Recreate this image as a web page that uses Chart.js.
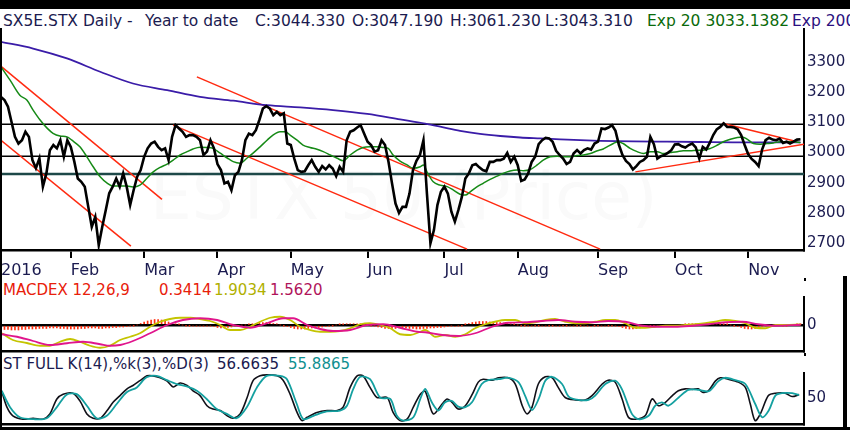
<!DOCTYPE html>
<html>
<head>
<meta charset="utf-8">
<script src="https://cdn.jsdelivr.net/npm/chart.js@4.4.0/dist/chart.umd.min.js"></script>
<style>
  body { margin: 0; width: 850px; height: 430px; overflow: hidden; background: #fff; position: relative; font-family: "DejaVu Sans", sans-serif; }
  .t { position: absolute; white-space: pre; font-size: 15px; line-height: 18px; color: #1b1b50; }
  .h { font-size: 15.5px; }
  canvas { position: absolute; left: 0; }
  .blk { position: absolute; background: #000; }
  #mark { position: absolute; left: 150px; top: 158px; font-size: 66px; color: #fafafa; white-space: pre; }
</style>
</head>
<body>
<div class="blk" style="left:0;top:0;width:850px;height:9px"></div>
<div id="mark">ESTX 50 (Price)</div>

<div class="t h" style="left:3px;top:12px">SX5E.STX Daily -</div>
<div class="t h" style="left:145px;top:12px">Year to date</div>
<div class="t h" style="left:255px;top:12px">C:3044.330</div>
<div class="t h" style="left:352px;top:12px">O:3047.190</div>
<div class="t h" style="left:450px;top:12px">H:3061.230</div>
<div class="t h" style="left:545px;top:12px">L:3043.310</div>
<div class="t h" style="left:647px;top:12px;color:#0a6a0a">Exp 20 3033.1382</div>
<div class="t h" style="left:792px;top:12px;color:#2b1080">Exp 200</div>

<div class="t" style="left:3px;top:281px;color:#e8200a">MACDEX 12,26,9</div>
<div class="t" style="left:159px;top:281px;color:#e8200a">0.3414</div>
<div class="t" style="left:214px;top:281px;color:#b0b000">1.9034</div>
<div class="t" style="left:270px;top:281px;color:#b0145a">1.5620</div>

<div class="t" style="left:3px;top:355px">ST FULL K(14),%k(3),%D(3)</div>
<div class="t" style="left:217px;top:355px">56.6635</div>
<div class="t" style="left:288px;top:355px;color:#109090">55.8865</div>

<canvas id="main" width="850" height="252" style="top:28px"></canvas>
<canvas id="macd" width="850" height="58" style="top:296px"></canvas>
<canvas id="stoch" width="850" height="55" style="top:372px"></canvas>

<div class="blk" style="left:0;top:28px;width:2px;height:402px"></div>
<div class="blk" style="left:0;top:427px;width:850px;height:3px"></div>
<div class="blk" style="left:843px;top:276px;width:4px;height:154px"></div>
<div class="blk" style="left:804px;top:278px;width:2px;height:3px"></div>
<div class="blk" style="left:804px;top:353px;width:2px;height:3px"></div>

<script>
const FONT = "DejaVu Sans";
const NAVY = "#1b1b50";

// months (trading-day index of first session) and axis ticks
const monthDays = [0, 20, 41, 62, 83, 105, 127, 148, 171, 193, 214];
const monthLabels = ["2016", "Feb", "Mar", "Apr", "May", "Jun", "Jul", "Aug", "Sep", "Oct", "Nov"];
const priceTicks = [2700, 2800, 2900, 3000, 3100, 3200, 3300];

// daily close, one value per session
const closeValues = [
  3184, 3174, 3152, 3102, 3052, 3030, 3041, 3069, 3052, 2975,
  2948, 2981, 2887, 2931, 3008, 3025, 3014, 3041, 2986, 3041,
  3019, 2970, 2914, 2903, 2887, 2820, 2754, 2787, 2693, 2754,
  2809, 2865, 2887, 2914, 2887, 2931, 2887, 2826, 2876, 2920,
  2942, 2986, 3014, 3030, 3036, 3019, 3008, 3014, 2975, 3052,
  3091, 3080, 3069, 3052, 3058, 3058, 3052, 3041, 2992, 3003,
  3041, 3014, 2962, 2942, 2898, 2903, 2875, 2925, 2936, 2975,
  3041, 3063, 3058, 3074, 3108, 3146, 3154, 3146, 3124, 3135,
  3124, 3130, 3030, 3025, 2980, 2942, 2936, 2938, 2958, 2975,
  2953, 2936, 2955, 2944, 2958, 2947, 2922, 2953, 2936, 3041,
  3069, 3074, 3083, 3091, 3063, 3036, 3025, 3003, 3008, 3041,
  3025, 2969, 2898, 2831, 2800, 2820, 2820, 2864, 2942, 2973,
  2992, 3041, 2864, 2699, 2743, 2826, 2870, 2887, 2864, 2804,
  2771, 2809, 2853, 2914, 2931, 2958, 2962, 2951, 2942, 2938,
  2969, 2969, 2975, 2975, 2980, 2999, 2969, 2986, 2958, 2906,
  2911, 2931, 2969, 2986, 3028, 3041, 3049, 3047, 3036, 3006,
  2992, 2980, 2962, 2969, 2997, 3008, 2997, 3008, 3014, 3010,
  3030, 3036, 3080, 3078, 3083, 3091, 3072, 3025, 2992, 2972,
  2962, 2944, 2955, 2969, 2975, 2986, 3052, 3028, 2980, 2988,
  2992, 2999, 3008, 3027, 3028, 3021, 3017, 3025, 3030, 3017,
  2980, 3019, 3010, 3032, 3058, 3077, 3085, 3097, 3085, 3085,
  3083, 3077, 3058, 3025, 2995, 2979, 2969, 2955, 3010, 3041,
  3049, 3043, 3041, 3046, 3032, 3036, 3030, 3036, 3043, 3044
];

// Exp 20 (green) read as [session, value]
const exp20Points = [
  [0, 3284], [2.6, 3240], [5.4, 3190], [7.4, 3174], [9.2, 3141], [11.2, 3108], [13.2, 3081], [14.9, 3064],
  [16.9, 3055], [18.9, 3052], [20.3, 3041], [22.6, 3019], [24.6, 2986], [26.4, 2953], [28.4, 2920], [30.4, 2899],
  [32.1, 2889], [34.1, 2889], [36.1, 2889], [37.8, 2886], [39.8, 2892], [41.8, 2915], [43.6, 2936], [45.6, 2951],
  [47.6, 2962], [49.3, 2975], [51.3, 2992], [53.3, 3003], [55, 3012], [57, 3018], [59, 3017], [60.7, 3014],
  [62.8, 2998], [64.8, 2982], [66.5, 2970], [68.5, 2965], [70.5, 2982], [72.2, 2998], [74.2, 3019], [76.2, 3041],
  [77.9, 3058], [79.9, 3069], [81.4, 3069], [82.8, 3058], [84.8, 3041], [86.5, 3025], [88.5, 3017], [90.5, 3011],
  [92.3, 3003], [94.3, 2992], [96.3, 2981], [98, 2973], [100, 2992], [102, 3008], [103.7, 3017], [105.7, 3019],
  [107.7, 3019], [109.5, 3017], [110.9, 3014], [112.3, 2992], [114.3, 2972], [116.3, 2959], [118.1, 2948], [120.1, 2953],
  [121, 2959], [122, 2936], [123.8, 2903], [125.8, 2892], [127.8, 2887], [129.5, 2876], [131.5, 2862], [133, 2859],
  [134.4, 2870], [136.4, 2887], [138.1, 2898], [140.1, 2911], [142.1, 2922], [143.8, 2931], [145.8, 2939], [147.9, 2942],
  [149.6, 2940], [151.6, 2944], [153.6, 2959], [155.3, 2975], [157.3, 2986], [159.3, 2988], [161, 2986], [163, 2986],
  [165, 2990], [166.8, 2992], [168.8, 2997], [170.8, 3006], [172.5, 3012], [173.6, 3019], [175.4, 3030], [176.8, 3036],
  [178.2, 3030], [180.2, 3014], [182.2, 3003], [184, 2997], [186, 3003], [188, 3003], [189.7, 2997], [191.7, 3000],
  [193.7, 3003], [195.4, 3006], [197.4, 3006], [199.4, 3008], [201.1, 3008], [203.2, 3014], [205.2, 3025], [206.9, 3036],
  [208.9, 3044], [210.9, 3050], [212.3, 3052], [213.8, 3044], [215.5, 3030], [217.5, 3028], [219.5, 3030], [221.2, 3032],
  [223.2, 3036], [225.2, 3036], [226.9, 3036], [229, 3033]
];

// Exp 200 (purple)
const exp200Points = [
  [0, 3367], [9.2, 3345], [18.9, 3312], [28.4, 3268], [37.8, 3229], [47.6, 3207], [57, 3185], [66.5, 3172],
  [76.2, 3157], [85.7, 3150], [95.1, 3141], [104.9, 3128], [114.3, 3110], [121.5, 3096], [125.8, 3086], [131.5, 3072],
  [137.2, 3062], [143, 3055], [148.7, 3050], [154.4, 3047], [160.2, 3044], [165.9, 3041], [171.6, 3039], [181.1, 3037],
  [190.8, 3036], [200.3, 3035], [209.7, 3034], [219.5, 3034], [229, 3034]
];

// horizontal levels and hand drawn trend lines [startDay, startValue, endDay, endValue]
const levelValues = [3094, 2988, 2929];
const levelColors = ["#000000", "#000000", "#1d4848"];
const trendLines = [
  [0.2, 3284, 46.1, 2845],
  [0, 3041, 37.2, 2690],
  [49.3, 3091, 133.5, 2680],
  [56.1, 3251, 171.6, 2680],
  [181.7, 2936, 230, 3028],
  [206.6, 3097, 228.1, 3036]
];

// MACD panel
const macdPoints = [
  [0.3, -33], [3.4, -60], [7.4, -72], [11.2, -83], [14, -83], [16.9, -67], [19.8, -56], [22.6, -67], [25.5, -83],
  [28.4, -91], [31.2, -83], [34.1, -60], [37, -47], [39.8, -33], [42.7, -7], [45.6, 13], [48.4, 24], [51.3, 29],
  [54.2, 29], [57, 24], [59.9, 16], [62.8, 0], [65.6, -20], [68.5, -20], [71.3, -7], [74.2, 13], [77.1, 29],
  [79.9, 33], [82.8, 20], [85.7, -7], [88.5, -20], [91.4, -27], [94.3, -27], [97.1, -24], [100, -13], [102.9, 3],
  [105.7, 7], [108.6, 0], [111.5, -13], [114.3, -37], [117.2, -40], [120.1, -27], [121.5, -20], [124.4, -47], [127.2, -40],
  [130.1, -47], [133, -37], [135.8, -13], [138.7, 3], [141.5, 13], [144.4, 20], [147.3, 20], [150.1, 7], [153, 11],
  [155.9, 20], [158.7, 24], [161.6, 13], [164.5, 7], [167.3, 7], [170.2, 13], [173.1, 20], [175.9, 20], [178.8, 7],
  [181.7, -11], [184.5, -11], [187.4, -7], [190.3, -3], [193.1, -3], [196, 0], [198.9, 3], [201.7, 7], [204.6, 13],
  [207.4, 20], [210.3, 16], [213.2, 7], [216, -11], [218.9, -13], [221.8, 0], [224.6, 0], [229, 2]
];
const signalPoints = [
  [0.3, -37], [4.6, -47], [9.2, -64], [14, -80], [18.9, -73], [23.5, -67], [28.4, -77], [31.2, -83], [34.1, -80],
  [37.8, -64], [42.7, -33], [47.6, 0], [52.1, 20], [57, 27], [61.9, 20], [66.5, 0], [71.3, -11], [76.2, 7],
  [80.8, 27], [83.7, 27], [87.7, 0], [91.4, -16], [95.1, -24], [100, -20], [104.9, 0], [109.5, 3], [114.3, -11],
  [119.2, -27], [121.5, -29], [126.4, -40], [131, -44], [135.8, -33], [140.7, -7], [145.3, 9], [150.1, 11], [155, 16],
  [159.6, 20], [164.5, 13], [169.3, 11], [173.9, 16], [178.8, 13], [183.7, -3], [188.3, -7], [193.1, -7], [198, -3],
  [202.6, 3], [207.4, 11], [212.3, 13], [216.9, 3], [221.8, -3], [229, 1]
];
const histValues = [
  -16, -18, -18, -20, -20, -20, -18, -18, -16, -16,
  -16, -14, -14, -14, -12, -12, -12, -14, -14, -16,
  -16, -16, -16, -14, -14, -12, -12, -12, -14, -14,
  -12, -12, -10, -10, -8, -8, -6, -4, -2, 0,
  6, 12, 16, 20, 22, 22, 20, 16, 12, 6,
  4, 2, 0, -2, -2, -4, -4, -4, -4, -4,
  -4, -6, -10, -12, -12, -10, -8, -4, -2, 0,
  0, 2, 4, 6, 8, 10, 10, 8, 6, 4,
  0, -2, -6, -10, -14, -16, -16, -16, -14, -12,
  -12, -10, -8, -6, -4, -2, 0, 2, 2, 4,
  4, 4, 4, 2, 2, 0, -2, -4, -8, -10,
  -14, -14, -14, -14, -12, -12, -12, -14, -14, -16,
  -16, -14, -14, -12, -12, -10, -10, -8, -6, -4,
  -6, -4, -2, 2, 6, 10, 12, 14, 14, 14,
  12, 12, 10, 10, 8, 6, 4, 2, 0, -2,
  -2, -4, -4, -2, -2, -4, -4, -2, -2, -4,
  -4, -2, -2, -4, -4, -2, -2, -4, -4, -6,
  -2, -2, -4, -4, -2, -2, -4, -6, -10, -14,
  -16, -16, -14, -12, -8, -4, -2, -2, -4, -4,
  -2, -2, -4, -4, -2, 0, 2, 2, 2, 2,
  2, 2, 2, 4, 4, 4, 2, 2, 2, 0,
  -2, -6, -10, -14, -16, -16, -14, -10, -6, -2,
  -2, -2, 0, 0, -2, -2, 0, 0, 2, 2
];

// Stochastic panel
const stochKPoints = [
  [0.3, 62], [1.7, 31], [3.4, 13], [6.3, 6], [9.2, 8], [12, 6], [14, 17], [16, 48], [17.8, 58], [20.6, 60],
  [22.6, 44], [24.6, 17], [26.4, 8], [28.4, 8], [30.4, 24], [32.1, 41], [34.1, 55], [36.1, 69], [37.8, 76], [39.8, 86],
  [41.8, 96], [43.6, 96], [45.6, 92], [47.6, 85], [49.3, 73], [51.3, 81], [53.3, 76], [55, 65], [57, 55], [59, 34],
  [60.7, 27], [62.8, 24], [64.8, 13], [66.5, 8], [68.5, 17], [70.5, 51], [72.2, 86], [74.2, 96], [76.2, 98], [79.1, 96],
  [80.8, 87], [82.8, 58], [84.8, 20], [86.2, 3], [87.7, 10], [90.5, 20], [93.4, 24], [96.3, 24], [98, 31], [100, 72],
  [102, 96], [103.7, 96], [105.7, 72], [107.7, 51], [110.6, 51], [112.3, 20], [114.3, 3], [116.3, 6], [118.1, 31], [120.1, 58],
  [121.5, 64], [123.8, 17], [126.4, 38], [127.8, 48], [129.2, 41], [131, 27], [133, 34], [135, 58], [136.7, 83], [138.1, 89],
  [140.7, 87], [142.4, 92], [145.3, 92], [147.3, 79], [149.3, 34], [150.7, 17], [152.1, 31], [153.9, 79], [155.9, 94], [157.9, 92],
  [159.6, 72], [161.6, 51], [164.5, 46], [167.3, 46], [169.3, 55], [172.2, 79], [173.9, 87], [175.9, 83], [177.9, 48], [179.7, 10],
  [181.7, 6], [184.5, 13], [186.5, 48], [188.3, 34], [190.3, 41], [192.3, 55], [194, 65], [196, 69], [198, 68], [199.7, 69],
  [200.9, 62], [202.6, 65], [204.6, 85], [206, 92], [208.3, 89], [211.2, 83], [213.2, 72], [214.6, 38], [216, 3], [217.5, 17],
  [219.8, 55], [221.8, 60], [224.6, 60], [226.6, 53], [228.6, 57]
];
const stochDPoints = [
  [0.2, 65], [2.6, 31], [5.4, 10], [9.3, 6], [13.1, 8], [16, 31], [18.8, 57], [21.7, 58], [24.6, 34], [27.4, 8],
  [30.3, 13], [33.2, 38], [36, 62], [38.9, 72], [41.7, 93], [44.6, 96], [47.5, 87], [50.3, 79], [53.2, 74], [56.1, 65],
  [58.9, 48], [61.8, 27], [64.7, 17], [67.5, 8], [70.4, 31], [73.3, 72], [76.1, 96], [79.9, 96], [81.9, 89], [84.7, 38],
  [86.6, 6], [89.5, 13], [93.3, 22], [97.1, 24], [99.1, 34], [100.9, 69], [102.9, 94], [105.7, 89], [108.6, 51], [111.5, 48],
  [113.4, 13], [115.3, 3], [118.1, 10], [120.1, 48], [121.5, 69], [123.4, 41], [125.3, 24], [127.2, 41], [129.1, 44], [131, 32],
  [133, 31], [134.9, 41], [137.7, 79], [139.6, 87], [142.5, 89], [145.4, 92], [148.2, 83], [150.1, 55], [152.1, 25], [154, 48],
  [155.9, 86], [157.8, 94], [160.7, 79], [162.6, 53], [165.4, 46], [168.3, 46], [170.2, 55], [173.1, 79], [175.9, 86], [177.8, 69],
  [180.7, 17], [182.6, 6], [185.5, 13], [187.4, 34], [189.3, 41], [191.2, 34], [194.1, 51], [196.9, 67], [199.8, 67], [202.7, 64],
  [205.5, 85], [207.4, 92], [210.3, 87], [213.2, 79], [216, 38], [218, 10], [219.9, 24], [221.8, 55], [223.7, 60], [226.6, 60],
  [228.6, 56]
];

Chart.defaults.font.family = FONT;
Chart.defaults.animation = false;

const pts = arr => arr.map(([x, y]) => ({ x, y }));

function xAxis(withLabels) {
  return {
    type: "linear", min: 0, max: 230, offset: false,
    afterBuildTicks: s => { s.ticks = monthDays.map(v => ({ value: v })); },
    afterFit: s => { s.height = withLabels ? 30 : 3; s.paddingLeft = 0; s.paddingRight = 0; },
    grid: { display: withLabels, drawOnChartArea: false, drawTicks: true, tickLength: 8, color: "#000", lineWidth: 2 },
    border: { display: true, color: "#000", width: 2.5 },
    ticks: {
      display: withLabels, autoSkip: false, maxRotation: 0, align: "start", padding: 3,
      color: NAVY, font: { size: 16 },
      callback: v => monthLabels[monthDays.indexOf(v)]
    }
  };
}

function yAxis(min, max, tickValues, zeroLine) {
  return {
    position: "right", min, max,
    afterBuildTicks: s => { s.ticks = tickValues.map(v => ({ value: v })); },
    afterFit: s => { s.width = 46; s.paddingTop = 0; s.paddingBottom = 0; },
    grid: { display: zeroLine, drawTicks: false, color: "#000", lineWidth: 2.5 },
    border: { display: true, color: "#000", width: 2 },
    ticks: { color: NAVY, font: { size: 15 }, padding: 3, callback: v => String(v) }
  };
}

const baseOptions = (scales) => ({
  responsive: false,
  devicePixelRatio: 1,
  layout: { padding: { left: 1, right: 0, top: 0, bottom: 0 } },
  plugins: { legend: { display: false }, tooltip: { enabled: false } },
  elements: { point: { radius: 0 } },
  scales
});

// ---- main price panel
const mainSets = [];
mainSets.push({ data: closeValues.map((v, i) => ({ x: i, y: v })), borderColor: "#000", borderWidth: 2.6, order: 0 });
mainSets.push({ data: pts(exp20Points), borderColor: "#168a16", borderWidth: 1.5, cubicInterpolationMode: "monotone", order: 1 });
mainSets.push({ data: pts(exp200Points), borderColor: "#3a1ca8", borderWidth: 1.8, cubicInterpolationMode: "monotone", order: 2 });
trendLines.forEach(([d1, v1, d2, v2]) => {
  mainSets.push({ data: [{ x: d1, y: v1 }, { x: d2, y: v2 }], borderColor: "#ff2a10", borderWidth: 1.5, order: 3 });
});
levelValues.forEach((v, i) => {
  mainSets.push({ data: [{ x: 0, y: v }, { x: 230, y: v }], borderColor: levelColors[i], borderWidth: i === 2 ? 2.6 : 1.5, order: 4 });
});

new Chart(document.getElementById("main"), {
  type: "line",
  data: { datasets: mainSets },
  options: baseOptions({ x: xAxis(true), y: yAxis(2677, 3413, priceTicks, false) })
});

// ---- MACD panel
new Chart(document.getElementById("macd"), {
  type: "line",
  data: {
    datasets: [
      { type: "line", data: pts(signalPoints), borderColor: "#e0158c", borderWidth: 1.8, cubicInterpolationMode: "monotone", order: 0 },
      { type: "line", data: pts(macdPoints), borderColor: "#c4c400", borderWidth: 1.8, cubicInterpolationMode: "monotone", order: 1 },
      { type: "bar", data: histValues.map((v, i) => ({ x: i, y: v })), backgroundColor: "#ff3010", barThickness: 1, order: 2 }
    ]
  },
  options: baseOptions({ x: xAxis(false), y: yAxis(-104, 116, [0], true) })
});

// ---- Stochastic panel
new Chart(document.getElementById("stoch"), {
  type: "line",
  data: {
    datasets: [
      { data: pts(stochKPoints), borderColor: "#101018", borderWidth: 1.6, tension: 0.3, order: 1 },
      { data: pts(stochDPoints), borderColor: "#14a0a0", borderWidth: 1.8, tension: 0.3, order: 0 }
    ]
  },
  options: baseOptions({ x: xAxis(false), y: yAxis(-4, 104, [50], false) })
});
</script>
</body>
</html>
